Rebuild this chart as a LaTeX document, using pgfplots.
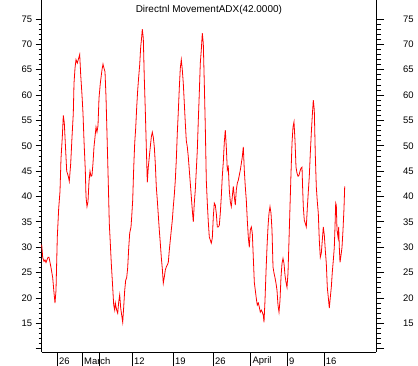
\documentclass[border=0pt]{standalone}
\usepackage{fontspec}
\setmainfont{Liberation Sans}
\usepackage{pgfplots}
\usepackage{pgfplotstable}
\pgfplotsset{compat=1.18}
\pgfplotstableread{
x y
41.7 30.5
42.7 28
44 27.2
45 27.5
46 27
47 27.5
48 28
49 28
50 27
51 26
52.7 24
54 21
55 19
56 21.5
57.3 32
58.7 37.7
60 41
61 47.5
62.3 51.7
63.3 56
64.3 54.5
65.3 50.5
66.7 45
68.3 44
69.3 43
70.7 46.5
72 51.7
73.3 56.4
74 62.3
75 65.3
76 67
77.3 66.3
78.7 67.3
79.7 68
80.7 64
82 60
83 56.4
84 51
85.3 45.2
86 40
87 38
88 39
89 43
90 45
91 44
92 44.2
93 46.6
94 49.8
95 51.7
96 53.7
97 52.7
98 54
99 59.4
100.3 62.3
102 65
103 66.1
104 65.3
105 64.6
106 59.7
107.3 50.1
108.3 42.6
109.3 34.7
110.3 30.8
111.3 26.8
112.7 22.1
113.7 18.6
114.7 17.6
115.3 19
116.7 17.6
117.7 17
118.7 19.2
119.7 20.6
120.7 18
121.7 16.6
122.7 15.2
123.7 18.2
124.7 21.5
125.7 23.5
126.7 24
127.7 26
128.7 29.8
129.7 32.8
131 34
131.7 36
132.7 39.3
133.7 45.6
134.7 50.5
135.7 53.5
136.7 57.6
137.7 61
138.7 63.6
139.7 66
140.7 69.5
141.7 71.5
142.3 73
143.3 71.2
144.3 63.3
145.3 57
146.3 49.8
147.3 42.8
148.3 45.8
149.3 47.8
150.3 49.8
151.3 51.7
152.3 52.7
153.3 51.7
154.3 49.8
155.3 46.5
156.3 41.9
157.3 39.3
158.3 36.3
159.3 33.4
160.3 30.8
161.3 28
162.3 25.8
163.3 22.9
164.3 24.1
165.3 25.5
166.3 26.1
167.3 26.5
168.3 27
169.3 29.4
170.3 31.4
171.3 33.4
172.3 35.3
173.3 38
174.3 40.3
175.3 43.2
176.3 47.2
177.3 52.5
178.3 56.7
179.3 61.4
180.3 65.3
181.3 67
182.3 65
183.3 62.3
184.3 58.4
185.3 54.5
186.3 51
187.3 49.8
188.3 47.8
189.3 45.2
190.3 42.6
191.3 40
192.3 37.3
193.3 35
194.3 38.7
195.3 41.3
196.3 45.2
197.3 49.1
198.3 55
199.3 60.4
200.3 66.3
201.3 68.9
202.3 72.2
203.3 70.2
204.3 62.3
205.3 53.7
206.3 43.2
207.3 38.7
208.3 35
209.3 32
210.3 31.4
211.3 30.8
212.3 31.8
213.3 36
214.3 38.7
215.3 38.3
216.3 36.7
217.3 34
218.3 34
219.3 34.3
220.3 36.7
221.3 40
222.3 44
223.3 46.8
224.3 50.7
225.3 53.1
226.3 49.8
227.3 45.2
228.3 45.8
229.3 41.3
230.3 39
231.3 38
232.3 40
233.3 42
234.3 40
235.3 38.3
236.3 41.3
237.3 42.6
238.3 43.2
239.3 44.2
240.3 45.2
241.3 46.5
242.3 47.8
243.3 49.8
244.3 45.2
245.3 41.9
246.3 39.3
247.3 35.3
248.3 32
249.3 30
250.3 33.4
251.3 34
252.3 32.8
253.3 28
254.3 23.1
255.3 21.5
256.3 19.9
257.3 18.6
258.3 19
259.3 18.2
260.3 17.2
261.3 17.6
262.3 17.2
263.3 16.6
264 15.2
265 19.5
266 25.1
267 30
268 34
269 36.7
270 38
271 36.7
272 33.4
273 26.1
274 24.9
275 24
276 22.9
277 21.5
278 18.6
279 17.2
280 19.5
281 24.1
282 26.8
283 27.8
284 26.8
285 24.5
286 23.1
287 22.1
288 24.9
289 31.4
290 38
291 44.6
292 50.5
293 53.7
294 54.7
295 51
296 45.8
297 44.6
298 44
299 44.2
300 45
301 45.6
302 45.8
302.7 41.3
303.3 38
304.3 35.3
305.3 34.7
306.3 34
307.3 37.7
308.3 40.9
309.3 44
310.3 48.5
311.3 52.5
312.3 56
313.3 59
314.3 57
315.3 48.2
316.3 41.9
317.3 39
318.3 36.7
319.3 31.4
320.3 28
321.3 28.8
322.3 31.4
323.3 34
324.3 32.4
325.3 29.4
326.3 26.8
327.3 22.1
328.3 20.1
329.3 18
330.3 20.1
331.3 22.1
332.3 25.1
333.3 27.4
334.3 30
335 34
335.7 38.7
336.3 38.3
337 33.4
338 32
338.7 34
339.3 30
340 27
341 28.4
342 30
343 33.4
344 37.7
344.7 42
}\adxdata

\begin{document}
\begin{tikzpicture}
\useasboundingbox (-41.7bp,-14bp) rectangle (376.3bp,352bp);
\pgfplotsset{common/.style={
  scale only axis, width=334.3bp, height=352bp,
  xmin=41.7, xmax=376, ymin=9.34, ymax=78.75,
  at={(0,0)}, anchor=south west,
  axis line style={line width=0.8bp, black},
  tick style={line width=0.8bp, black},
  tick align=outside,
  ticklabel style={font=\fontsize{9.5}{11}\selectfont},
  /pgf/number format/assume math mode=true,
  clip=false}}
\begin{axis}[common,
  axis y line*=left, axis x line*=bottom,
  xtick=\empty,
  ytick={10,15,...,75},
  yticklabels={{},15,20,25,30,35,40,45,50,55,60,65,70,75},
  minor y tick num=4,
  major tick length=6bp, minor tick length=3bp]
\addplot[red, line width=0.8bp] table {\adxdata};
\node[anchor=north, inner sep=0pt, font=\fontsize{10}{12}\selectfont] at (rel axis cs:0.5,0.985) {Directnl MovementADX(42.0000)};
\foreach \px in {57.3,82.3,99,132.3,173.3,213.3,250.7,287.3,324}{
  \edef\temp{\noexpand\draw[line width=0.8bp, black] (axis cs:\px,9.34) -- (axis cs:\px,6.58);}
  \temp
}
\foreach \px/\lab in {59/26,84/March,134/12,175/19,215/26,252.4/April,289/9,325.7/16}{
  \edef\temp{\noexpand\node[anchor=west, inner sep=0pt, font=\noexpand\fontsize{9.5}{11}\noexpand\selectfont] at (axis cs:\px,7.47) {\lab};}
  \temp
}
\end{axis}
\begin{axis}[common,
  axis y line*=right, axis x line=none,
  ytick={10,15,...,75},
  yticklabels={{},15,20,25,30,35,40,45,50,55,60,65,70,75},
  minor y tick num=4,
  major tick length=8bp, minor tick length=5bp,
  yticklabel style={anchor=west, xshift=15.5bp}]
\end{axis}
\end{tikzpicture}
\end{document}
